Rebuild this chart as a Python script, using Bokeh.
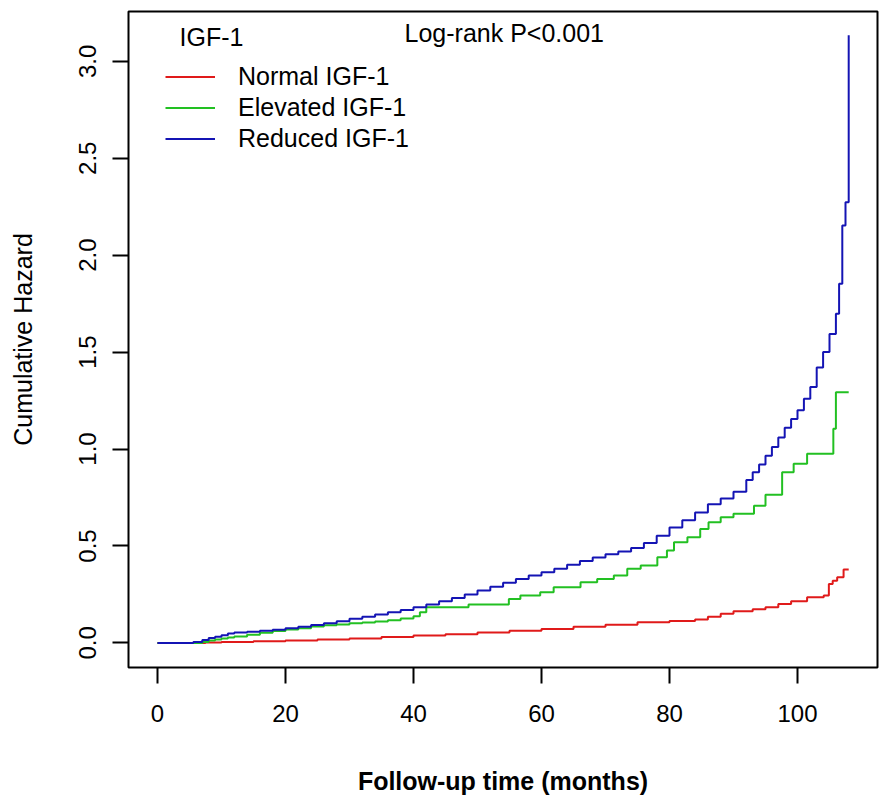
from bokeh.plotting import figure
from bokeh.models import (FixedTicker, PrintfTickFormatter, Range1d, Legend, LegendItem, Label)
from bokeh.embed import file_html
from bokeh.resources import INLINE

# ---- data ----
blue_t = [0, 5.6, 7, 8, 9, 10, 11, 12, 14, 16, 18, 20, 22, 24, 26, 28, 30, 32, 34, 36, 38, 40,
          42, 44, 46, 48, 50, 52, 54, 56, 58, 60, 62, 64, 66, 68, 70, 72, 74, 76, 78, 80, 82,
          84, 86, 88, 90, 92, 93, 94, 95, 96, 97, 98, 99, 100, 101, 102, 103, 104, 105, 106,
          106.5, 107, 107.5, 108]
blue_h = [0, 0.005, 0.015, 0.025, 0.032, 0.040, 0.048, 0.053, 0.058, 0.063, 0.068, 0.075,
          0.083, 0.092, 0.101, 0.112, 0.124, 0.135, 0.147, 0.158, 0.170, 0.184, 0.198, 0.215,
          0.232, 0.250, 0.270, 0.290, 0.310, 0.330, 0.347, 0.364, 0.383, 0.403, 0.423, 0.440,
          0.457, 0.472, 0.490, 0.515, 0.552, 0.595, 0.632, 0.672, 0.715, 0.745, 0.780, 0.840,
          0.880, 0.920, 0.965, 1.010, 1.060, 1.110, 1.155, 1.200, 1.260, 1.320, 1.420, 1.500,
          1.594, 1.698, 1.852, 2.153, 2.273, 3.134]

green_t = [0, 7, 8, 9, 10, 11, 12, 14, 16, 18, 20, 22, 24, 26, 28, 30, 32, 34, 36, 38, 40, 41,
           42, 48.6, 54.9, 56.7, 59.8, 61.9, 66.1, 68.7, 71.3, 73.4, 75.5, 78.1, 79.6, 80.7,
           82.8, 84.8, 86.1, 88.0, 90.0, 93.2, 95.0, 97.6, 99.4, 101.5, 105.6, 106.0, 108.0]
green_h = [0, 0.005, 0.012, 0.018, 0.022, 0.028, 0.033, 0.042, 0.052, 0.061, 0.069, 0.076,
           0.084, 0.091, 0.095, 0.101, 0.105, 0.110, 0.117, 0.126, 0.137, 0.158, 0.184, 0.198,
           0.227, 0.244, 0.261, 0.287, 0.313, 0.330, 0.347, 0.382, 0.399, 0.442, 0.476, 0.519,
           0.545, 0.588, 0.622, 0.648, 0.666, 0.708, 0.764, 0.880, 0.924, 0.975, 1.104, 1.293,
           1.293]

red_t = [0, 7.5, 10, 15, 20, 25, 30, 35, 40, 45, 50, 55, 60, 65, 70, 75, 80, 84, 86, 88, 90,
         93, 95, 97, 99, 101.5, 104.1, 104.9, 105.5, 106.2, 107.2, 108]
red_h = [0, 0.002, 0.004, 0.008, 0.012, 0.017, 0.022, 0.030, 0.038, 0.045, 0.054, 0.063,
         0.072, 0.083, 0.094, 0.106, 0.113, 0.121, 0.135, 0.150, 0.163, 0.173, 0.184, 0.200,
         0.215, 0.235, 0.244, 0.304, 0.320, 0.339, 0.378, 0.378]

group_labels = ["Normal IGF-1", "Elevated IGF-1", "Reduced IGF-1"]
group_colors = ["#e01a1a", "#22c022", "#1414b4"]
x_ticks = [0, 20, 40, 60, 80, 100]
y_ticks = [0.0, 0.5, 1.0, 1.5, 2.0, 2.5, 3.0]

FONT = "Liberation Sans"

p = figure(width=880, height=799, output_backend="svg", toolbar_location=None,
           x_range=Range1d(-4.53, 112.5), y_range=Range1d(-0.127, 3.257),
           min_border_left=128, min_border_right=3, min_border_top=11, min_border_bottom=132)
p.grid.visible = False
p.outline_line_color = "black"
p.outline_line_width = 2
p.background_fill_color = "white"
p.border_fill_color = "white"

r_red = p.step(red_t, red_h, mode="after", line_color=group_colors[0], line_width=2)
r_green = p.step(green_t, green_h, mode="after", line_color=group_colors[1], line_width=2)
r_blue = p.step(blue_t, blue_h, mode="after", line_color=group_colors[2], line_width=2)

for ax in (p.xaxis[0], p.yaxis[0]):
    ax.axis_line_color = None
    ax.major_tick_line_color = "black"
    ax.major_tick_line_width = 2
    ax.major_tick_out = 16
    ax.major_tick_in = 0
    ax.minor_tick_line_color = None
    ax.major_label_text_font = FONT
    ax.major_label_text_font_size = "24px"
    ax.major_label_text_color = "black"
    ax.axis_label_text_font = FONT
    ax.axis_label_text_font_size = "25px"
    ax.axis_label_text_color = "black"

p.xaxis.ticker = FixedTicker(ticks=x_ticks)
p.xaxis.major_label_standoff = 21
p.xaxis.axis_label = "Follow-up time (months)"
p.xaxis.axis_label_text_font_style = "bold"
p.xaxis.axis_label_standoff = 42

p.yaxis.ticker = FixedTicker(ticks=y_ticks)
p.yaxis.formatter = PrintfTickFormatter(format="%.1f")
p.yaxis.major_label_orientation = "vertical"
p.yaxis.major_label_standoff = 16
p.yaxis.axis_label = "Cumulative Hazard"
p.yaxis.axis_label_text_font_style = "normal"
p.yaxis.axis_label_standoff = 40

legend = Legend(items=[LegendItem(label=group_labels[0], renderers=[r_red]),
                       LegendItem(label=group_labels[1], renderers=[r_green]),
                       LegendItem(label=group_labels[2], renderers=[r_blue])],
                location=(37, 513), orientation="vertical",
                glyph_width=50, glyph_height=31, label_height=31, spacing=0,
                padding=0, margin=0, label_standoff=23,
                label_text_font=FONT, label_text_font_size="25px", label_text_color="black",
                border_line_color=None, background_fill_alpha=0)
p.add_layout(legend)

p.add_layout(Label(x=3.44, y=3.128, text="IGF-1", text_font=FONT, text_font_size="25px",
                   text_baseline="middle", text_align="left", text_color="black"))
p.add_layout(Label(x=38.6, y=3.144, text="Log-rank P<0.001", text_font=FONT,
                   text_font_size="25px", text_baseline="middle", text_align="left",
                   text_color="black"))

open("out.html", "w").write(file_html(p, INLINE))
